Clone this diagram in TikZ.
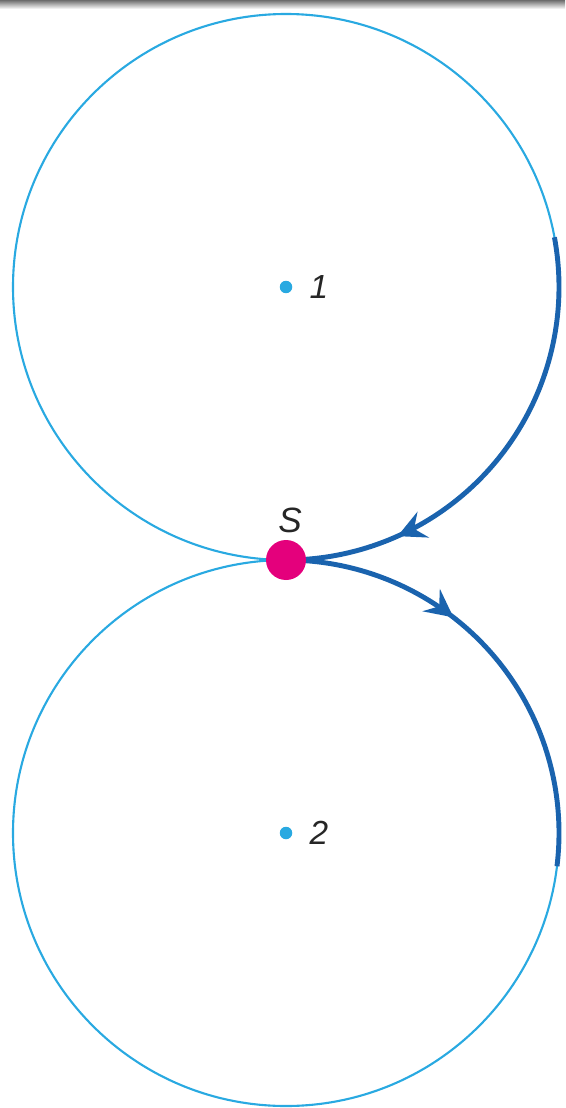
\documentclass[tikz,border=0pt]{standalone}
\usepackage{fontspec}
\setmainfont{Liberation Sans}
\usepackage{tikz}
\usepackage{xcolor}
\usetikzlibrary{arrows.meta,calc,decorations.markings,positioning}
\definecolor{OrbitBlue}{HTML}{29A9E1}
\definecolor{PathBlue}{HTML}{1A63AE}
\definecolor{SourcePink}{HTML}{E4007C}
\definecolor{LabelGray}{HTML}{262626}

\begin{document}
\begin{tikzpicture}[
      x=0.02cm,y=0.02cm,
      font=\fontsize{19}{21}\selectfont\itshape,
      orbit/.style={draw=OrbitBlue,line width=1.2pt},
      ctr/.style={circle,fill=OrbitBlue,inner sep=0pt,minimum size=0.25cm},
      src/.style={circle,fill=SourcePink,inner sep=0pt,minimum size=0.8cm},
      lbl/.style={text=LabelGray,inner sep=1pt},
      route/.style={draw=PathBlue,line width=2.8pt,postaction={decorate},
        decoration={markings,mark=at position #1 with {\arrow{Stealth[length=5.6mm,width=5.6mm,inset=2mm]}}}}
    ]
      \useasboundingbox (0,0) rectangle (565,-1108);
      \shade[top color=gray!85!black,bottom color=white] (0,0) rectangle (565,-9);
      % centres
      \node[ctr] (c1) at (286,-287) {};
      \node[ctr] (c2) at (286,-833) {};
      \node[lbl,right=0.3cm of c1] (n1) {1};
      \node[lbl,right=0.3cm of c2] (n2) {2};
      % circles
      \draw[orbit] (c1) circle[radius=273];
      \draw[orbit] (c2) circle[radius=273];
      % paths through S
      \coordinate (a1) at ($(c1)+(10.5:273)$);
      \coordinate (b2) at ($(c2)+(90:273)$);
      \draw[route=0.76] (a1) arc[start angle=10.5,end angle=-90,radius=273];
      \draw[route=0.39] (b2) arc[start angle=90,end angle=-7,radius=273];
      \node[src] (s) at (b2) {};
      \node[lbl,above=0.1cm of s,xshift=0.08cm,font=\fontsize{20}{22}\selectfont\itshape] (sl) {S};
    \end{tikzpicture}
\end{document}
